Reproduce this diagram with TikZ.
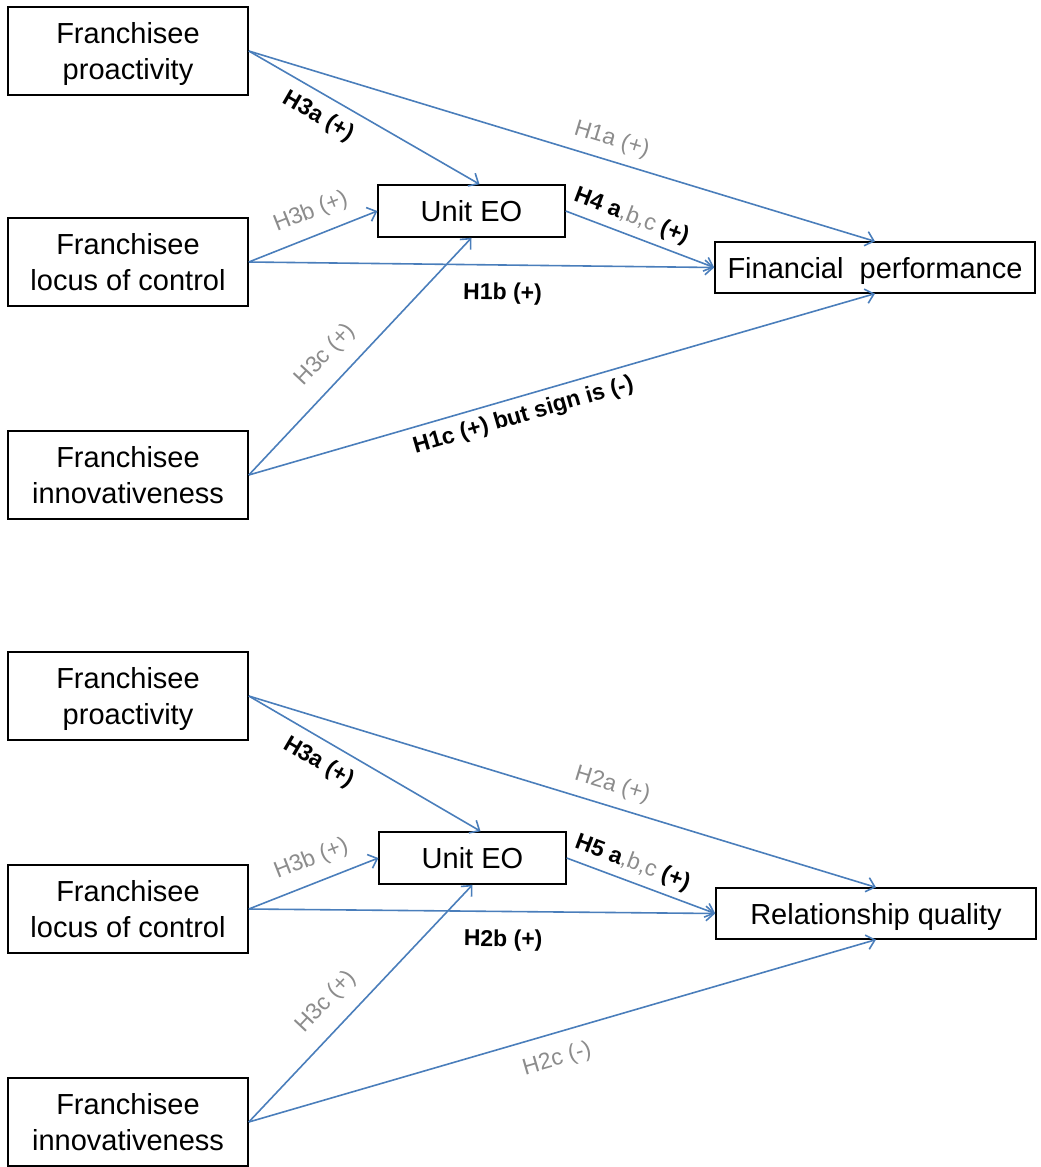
\documentclass[tikz,border=0pt]{standalone}
\usepackage{fontspec}
\setmainfont{Liberation Sans}
\usetikzlibrary{arrows.meta}
\definecolor{linkblue}{RGB}{74,126,187}
\definecolor{hypgrey}{RGB}{140,140,140}
\tikzset{
	box/.style={draw, line width=1.2pt, minimum width=180pt, minimum height=66pt, align=center, inner sep=2pt, text depth=0pt, font=\fontsize{21.75}{27}\selectfont},
	eobox/.style={box, minimum width=140pt, minimum height=39pt},
	outbox/.style={box, minimum width=240pt, minimum height=38pt},
	link/.style={draw=linkblue, line width=1.2pt, -{Straight Barb[length=6pt,width=11pt]}},
	hyp/.style={font=\fontsize{17.25}{20}\selectfont\bfseries, text=black, sloped, inner sep=2pt},
	hypgrey/.style={hyp, font=\fontsize{17.25}{20}\selectfont, text=hypgrey},
}

\begin{document}
\begin{tikzpicture}[x=0.75pt, y=0.75pt]
		%%%%% START %%%%%
		\useasboundingbox (0, 0) rectangle (1040, -1167);
		
		% financial performance model
		\node[box] (pro1) at (128, -51) {Franchisee\\proactivity};
		\node[box] (loc1) at (128, -262) {Franchisee\\locus of control};
		\node[box] (inn1) at (128, -475) {Franchisee\\innovativeness};
		\node[eobox] (eo1) at (471.5, -211) {Unit EO};
		\node[outbox] (fp1) at (875, -267.5) {Financial\ \ performance};
		
		\draw[link] (pro1.east) -- node[hyp, pos=0.35, below=6pt] {H3a (+)} ([xshift=6pt]eo1.north);
		\draw[link] (pro1.east) -- node[hypgrey, pos=0.57, above=5pt] {H1a (+)} (fp1.north);
		\draw[link] (loc1.east) -- node[hypgrey, pos=0.55, above=7pt] {H3b (+)} (eo1.west);
		\draw[link] (loc1.east) -- node[hyp, pos=0.546, below=11pt] {H1b (+)} (fp1.west);
		\draw[link] (inn1.east) -- node[hypgrey, pos=0.43, above=9pt] {H3c (+)} (eo1.south);
		\draw[link] (inn1.east) -- node[hyp, pos=0.43, below=4pt] {H1c (+) but sign is (-)} (fp1.south);
		\draw[link] (eo1.east) -- node[hyp, pos=0.4, above=3pt] {H4 a{\mdseries\color{hypgrey},b,c} (+)} (fp1.west);
		
		% relationship quality model
		\node[box] (pro2) at (128, -696) {Franchisee\\proactivity};
		\node[box] (loc2) at (128, -909) {Franchisee\\locus of control};
		\node[box] (inn2) at (128, -1122) {Franchisee\\innovativeness};
		\node[eobox] (eo2) at (472.5, -858) {Unit EO};
		\node[outbox] (rq2) at (876, -913.5) {Relationship quality};
		
		\draw[link] (pro2.east) -- node[hyp, pos=0.35, below=6pt] {H3a (+)} ([xshift=6pt]eo2.north);
		\draw[link] (pro2.east) -- node[hypgrey, pos=0.57, above=5pt] {H2a (+)} (rq2.north);
		\draw[link] (loc2.east) -- node[hypgrey, pos=0.55, above=7pt] {H3b (+)} (eo2.west);
		\draw[link] (loc2.east) -- node[hyp, pos=0.546, below=11pt] {H2b (+)} (rq2.west);
		\draw[link] (inn2.east) -- node[hypgrey, pos=0.43, above=9pt] {H3c (+)} (eo2.south);
		\draw[link] (inn2.east) -- node[hypgrey, pos=0.48, below=9pt] {H2c (-)} (rq2.south);
		\draw[link] (eo2.east) -- node[hyp, pos=0.4, above=3pt] {H5 a{\mdseries\color{hypgrey},b,c} (+)} (rq2.west);
		%%%%% END %%%%%
\end{tikzpicture}
\end{document}
